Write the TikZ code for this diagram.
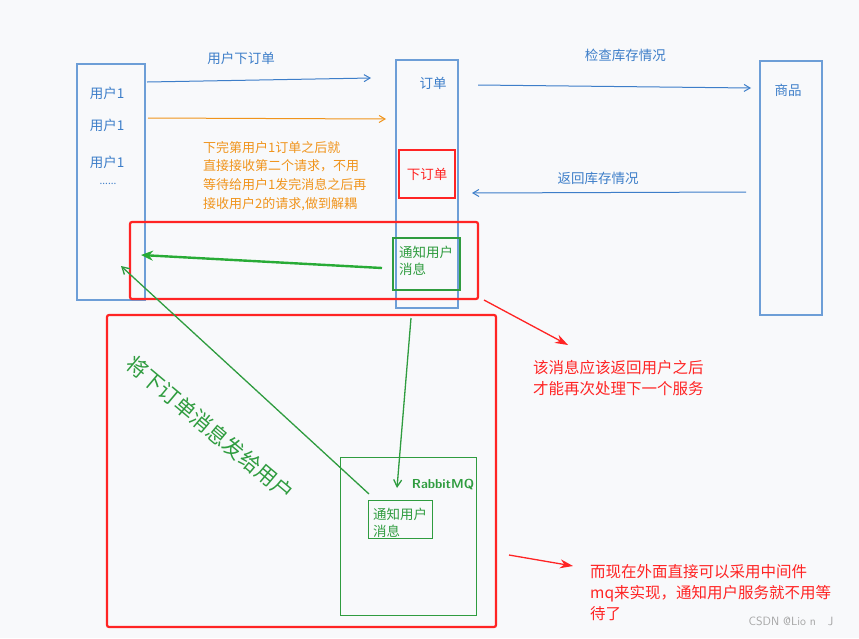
\documentclass[tikz,border=0pt]{standalone}
\usepackage{fontspec}
\setmainfont{Noto Sans CJK SC}
\usetikzlibrary{positioning, arrows.meta, calc}
\definecolor{skblue}{HTML}{3D7EC9}
\definecolor{skorange}{HTML}{F0941C}
\definecolor{skred}{HTML}{FF2424}
\definecolor{skgreen}{HTML}{2F9C3F}
\definecolor{skbg}{HTML}{F8F9FB}
\tikzset{
    every node/.style={font=\fontsize{13.5}{17}\selectfont}, % default text size
    lane/.style={ % tall service boxes
        draw=skblue!75, line width=1.3pt, inner sep=0pt
    },
    flow/.style={ % thin arrows between services
        draw, ->, >={Straight Barb[length=6pt,width=7pt]},
        line width=1pt
    },
    redframe/.style={draw=skred, line width=2.2pt, rounded corners=2pt},
    greenbox/.style={draw=skgreen, line width=1pt, inner sep=0pt},
    para/.style={align=left, anchor=north west, inner sep=0pt},
}
\begin{document}
\begin{tikzpicture}[x=1pt, y=-1pt]
    \fill[skbg] (0,0) rectangle (859,638);
    \useasboundingbox (0,0) rectangle (859,638);

    % services
    \node[lane, minimum width=68pt, minimum height=236pt] (user)  at (111,182) {};
    \node[lane, minimum width=62pt, minimum height=248pt] (order) at (427,184) {};
    \node[lane, minimum width=62pt, minimum height=254pt] (goods) at (791,188) {};
    \node[text=skblue] (u1) at (107,93)  {用户1};
    \node[text=skblue] (u2) at (107,125) {用户1};
    \node[text=skblue] (u3) at (107,162) {用户1};
    \node[text=skblue, font=\fontsize{10}{12}\selectfont] (ud) at (108,184) {......};
    \node[text=skblue] (ordtxt) at (433,83) {订单};
    \node[text=skblue] (goodtxt) at (788,90) {商品};

    % place order
    \node[draw=skred, line width=1.4pt, minimum width=56pt, minimum height=48pt, text=skred]
        (place) at (427,174) {下订单};
    \node[greenbox, line width=2pt, minimum width=67pt, minimum height=52pt] (notify) at (426,264) {};
    \node[para, text=skgreen] (notifytxt) at (399,246) {通知用户\\消息};

    % arrows between services
    \coordinate (a1s) at (147,82);  \coordinate (a1e) at (371,78);
    \coordinate (a2s) at (148,118); \coordinate (a2e) at (386,119);
    \coordinate (a3s) at (478,85);  \coordinate (a3e) at (751,88);
    \coordinate (a4s) at (746,192); \coordinate (a4e) at (472,193);
    \draw[flow, skblue]   (a1s) -- node[pos=0.42, above=12pt, text=skblue] {用户下订单} (a1e);
    \draw[flow, skorange] (a2s) -- (a2e);
    \draw[flow, skblue]   (a3s) -- node[pos=0.54, above=21pt, text=skblue] {检查库存情况} (a3e);
    \draw[flow, skblue]   (a4s) -- node[pos=0.54, above=4pt, text=skblue] {返回库存情况} (a4e);

    \node[para, text=skorange, font=\fontsize{13}{18.6}\selectfont] (decouple) at (203,141)
        {下完第用户1订单之后就\\直接接收第二个请求，不用\\等待给用户1发完消息之后再\\接收用户2的请求,做到解耦};

    % red frames
    \draw[redframe] (130,222) rectangle (478,299);
    \coordinate (frame1) at (484,300);
    \draw[redframe] (107,315) rectangle (496,627);
    \coordinate (frame2) at (509,555);

    % back to the user
    \coordinate (userhit) at (141,255);
    \draw[skgreen!85!green, line width=2.4pt, -{Stealth[length=12pt,width=10pt]}] (382,268) -- (userhit);

    % rabbitmq
    \node[greenbox, minimum width=136pt, minimum height=158pt] (mq) at (408,536) {};
    \node[text=skgreen, font=\fontsize{13}{14}\bfseries\sffamily] (mqtxt) at (443,485) {RabbitMQ};
    \node[greenbox, minimum width=64pt, minimum height=38pt] (mqmsg) at (400,519) {};
    \node[para, text=skgreen] (mqmsgtxt) at (373,508) {通知用户\\消息};
    \coordinate (mqin) at (397,488);
    \coordinate (mqout) at (369,494);
    \coordinate (userback) at (121,266);
    \draw[skgreen, line width=1.3pt, ->, >={Straight Barb[length=7pt,width=8pt]}] (411,318) -- (mqin);
    \draw[skgreen, line width=1.3pt, ->, >={Straight Barb[length=7pt,width=8pt]}] (mqout) -- (userback);
    \node[text=skgreen, rotate=-40, font=\fontsize{21}{24}\selectfont] (sendtxt) at (210,428) {将下订单消息发给用户};

    % notes
    \coordinate (n1) at (568,345);
    \coordinate (n2) at (573,566);
    \draw[skred, line width=1.3pt, -{Stealth[length=13pt,width=9pt]}] (frame1) -- (n1);
    \draw[skred, line width=1.3pt, -{Stealth[length=13pt,width=9pt]}] (frame2) -- (n2);
    \node[para, text=skred, font=\fontsize{15.5}{21}\selectfont] (note1) at (533,360)
        {该消息应该返回用户之后\\才能再次处理下一个服务};
    \node[para, text=skred, font=\fontsize{15.5}{21}\selectfont] (note2) at (590,564)
        {而现在外面直接可以采用中间件\\mq来实现，通知用户服务就不用等\\待了};

    \node[text=gray!70, font=\fontsize{12}{14}\selectfont\sffamily] (mark) at (791,621) {CSDN @Lio n\quad J};
\end{tikzpicture}
\end{document}
